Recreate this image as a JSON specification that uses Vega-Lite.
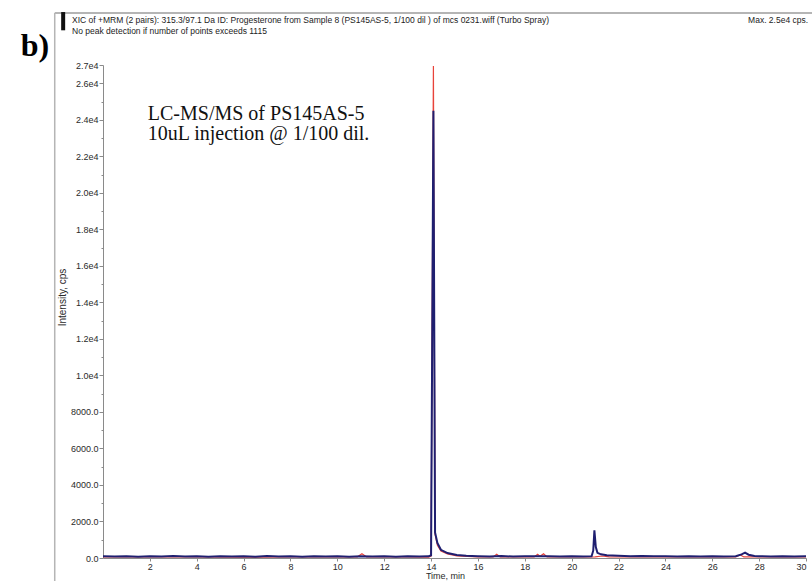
{
  "$schema": "https://vega.github.io/schema/vega-lite/v6.json",
  "width": 703,
  "height": 493,
  "autosize": {"type": "none"},
  "padding": {"left": 103, "top": 65, "right": 6, "bottom": 23},
  "background": "white",
  "config": {
    "view": {"stroke": null},
    "font": "Liberation Sans",
    "axis": {
      "domainColor": "#8a8a8a",
      "tickColor": "#8a8a8a",
      "labelColor": "#2a2a2a",
      "titleColor": "#2a2a2a",
      "labelFont": "Liberation Sans",
      "titleFont": "Liberation Sans",
      "labelFontSize": 9,
      "titleFontSize": 9,
      "titleFontWeight": "normal",
      "grid": false
    }
  },
  "datasets": {
    "xic": [
      {"t": 0.0, "cps": 60, "trace": "315.3/109.1"},
      {"t": 2.0, "cps": 55, "trace": "315.3/109.1"},
      {"t": 4.0, "cps": 60, "trace": "315.3/109.1"},
      {"t": 6.0, "cps": 50, "trace": "315.3/109.1"},
      {"t": 8.0, "cps": 60, "trace": "315.3/109.1"},
      {"t": 10.0, "cps": 55, "trace": "315.3/109.1"},
      {"t": 10.85, "cps": 60, "trace": "315.3/109.1"},
      {"t": 11.05, "cps": 230, "trace": "315.3/109.1"},
      {"t": 11.25, "cps": 60, "trace": "315.3/109.1"},
      {"t": 13.0, "cps": 55, "trace": "315.3/109.1"},
      {"t": 13.9, "cps": 50, "trace": "315.3/109.1"},
      {"t": 14.0, "cps": 100, "trace": "315.3/109.1"},
      {"t": 14.1, "cps": 26950, "trace": "315.3/109.1"},
      {"t": 14.17, "cps": 1300, "trace": "315.3/109.1"},
      {"t": 14.27, "cps": 700, "trace": "315.3/109.1"},
      {"t": 14.42, "cps": 380, "trace": "315.3/109.1"},
      {"t": 14.7, "cps": 220, "trace": "315.3/109.1"},
      {"t": 15.1, "cps": 120, "trace": "315.3/109.1"},
      {"t": 16.0, "cps": 60, "trace": "315.3/109.1"},
      {"t": 16.65, "cps": 60, "trace": "315.3/109.1"},
      {"t": 16.8, "cps": 210, "trace": "315.3/109.1"},
      {"t": 16.95, "cps": 60, "trace": "315.3/109.1"},
      {"t": 18.4, "cps": 60, "trace": "315.3/109.1"},
      {"t": 18.55, "cps": 200, "trace": "315.3/109.1"},
      {"t": 18.65, "cps": 90, "trace": "315.3/109.1"},
      {"t": 18.8, "cps": 230, "trace": "315.3/109.1"},
      {"t": 18.95, "cps": 60, "trace": "315.3/109.1"},
      {"t": 20.0, "cps": 55, "trace": "315.3/109.1"},
      {"t": 21.0, "cps": 60, "trace": "315.3/109.1"},
      {"t": 21.3, "cps": 110, "trace": "315.3/109.1"},
      {"t": 21.6, "cps": 60, "trace": "315.3/109.1"},
      {"t": 24.0, "cps": 55, "trace": "315.3/109.1"},
      {"t": 27.0, "cps": 60, "trace": "315.3/109.1"},
      {"t": 27.2, "cps": 170, "trace": "315.3/109.1"},
      {"t": 27.35, "cps": 60, "trace": "315.3/109.1"},
      {"t": 30.0, "cps": 55, "trace": "315.3/109.1"},

      {"t": 0.0, "cps": 95, "trace": "315.3/97.1"},
      {"t": 0.5, "cps": 80, "trace": "315.3/97.1"},
      {"t": 1.0, "cps": 100, "trace": "315.3/97.1"},
      {"t": 1.5, "cps": 75, "trace": "315.3/97.1"},
      {"t": 2.0, "cps": 95, "trace": "315.3/97.1"},
      {"t": 2.5, "cps": 85, "trace": "315.3/97.1"},
      {"t": 3.0, "cps": 110, "trace": "315.3/97.1"},
      {"t": 3.5, "cps": 80, "trace": "315.3/97.1"},
      {"t": 4.0, "cps": 95, "trace": "315.3/97.1"},
      {"t": 4.5, "cps": 70, "trace": "315.3/97.1"},
      {"t": 5.0, "cps": 100, "trace": "315.3/97.1"},
      {"t": 5.5, "cps": 85, "trace": "315.3/97.1"},
      {"t": 6.0, "cps": 90, "trace": "315.3/97.1"},
      {"t": 6.5, "cps": 75, "trace": "315.3/97.1"},
      {"t": 7.0, "cps": 105, "trace": "315.3/97.1"},
      {"t": 7.5, "cps": 80, "trace": "315.3/97.1"},
      {"t": 8.0, "cps": 95, "trace": "315.3/97.1"},
      {"t": 8.5, "cps": 70, "trace": "315.3/97.1"},
      {"t": 9.0, "cps": 90, "trace": "315.3/97.1"},
      {"t": 9.5, "cps": 85, "trace": "315.3/97.1"},
      {"t": 10.0, "cps": 100, "trace": "315.3/97.1"},
      {"t": 10.5, "cps": 75, "trace": "315.3/97.1"},
      {"t": 11.0, "cps": 95, "trace": "315.3/97.1"},
      {"t": 11.5, "cps": 80, "trace": "315.3/97.1"},
      {"t": 12.0, "cps": 90, "trace": "315.3/97.1"},
      {"t": 12.5, "cps": 75, "trace": "315.3/97.1"},
      {"t": 13.0, "cps": 100, "trace": "315.3/97.1"},
      {"t": 13.5, "cps": 85, "trace": "315.3/97.1"},
      {"t": 13.9, "cps": 90, "trace": "315.3/97.1"},
      {"t": 14.0, "cps": 150, "trace": "315.3/97.1"},
      {"t": 14.1, "cps": 24500, "trace": "315.3/97.1"},
      {"t": 14.17, "cps": 1400, "trace": "315.3/97.1"},
      {"t": 14.27, "cps": 820, "trace": "315.3/97.1"},
      {"t": 14.42, "cps": 450, "trace": "315.3/97.1"},
      {"t": 14.7, "cps": 270, "trace": "315.3/97.1"},
      {"t": 15.1, "cps": 170, "trace": "315.3/97.1"},
      {"t": 15.5, "cps": 120, "trace": "315.3/97.1"},
      {"t": 16.0, "cps": 100, "trace": "315.3/97.1"},
      {"t": 16.5, "cps": 85, "trace": "315.3/97.1"},
      {"t": 17.0, "cps": 105, "trace": "315.3/97.1"},
      {"t": 17.5, "cps": 80, "trace": "315.3/97.1"},
      {"t": 18.0, "cps": 95, "trace": "315.3/97.1"},
      {"t": 18.5, "cps": 90, "trace": "315.3/97.1"},
      {"t": 19.0, "cps": 100, "trace": "315.3/97.1"},
      {"t": 19.5, "cps": 80, "trace": "315.3/97.1"},
      {"t": 20.0, "cps": 95, "trace": "315.3/97.1"},
      {"t": 20.5, "cps": 85, "trace": "315.3/97.1"},
      {"t": 20.85, "cps": 100, "trace": "315.3/97.1"},
      {"t": 20.92, "cps": 400, "trace": "315.3/97.1"},
      {"t": 20.97, "cps": 1520, "trace": "315.3/97.1"},
      {"t": 21.03, "cps": 600, "trace": "315.3/97.1"},
      {"t": 21.1, "cps": 280, "trace": "315.3/97.1"},
      {"t": 21.25, "cps": 200, "trace": "315.3/97.1"},
      {"t": 21.5, "cps": 150, "trace": "315.3/97.1"},
      {"t": 22.0, "cps": 120, "trace": "315.3/97.1"},
      {"t": 22.5, "cps": 100, "trace": "315.3/97.1"},
      {"t": 23.0, "cps": 110, "trace": "315.3/97.1"},
      {"t": 23.5, "cps": 90, "trace": "315.3/97.1"},
      {"t": 24.0, "cps": 100, "trace": "315.3/97.1"},
      {"t": 24.5, "cps": 85, "trace": "315.3/97.1"},
      {"t": 25.0, "cps": 95, "trace": "315.3/97.1"},
      {"t": 25.5, "cps": 80, "trace": "315.3/97.1"},
      {"t": 26.0, "cps": 100, "trace": "315.3/97.1"},
      {"t": 26.5, "cps": 85, "trace": "315.3/97.1"},
      {"t": 27.0, "cps": 100, "trace": "315.3/97.1"},
      {"t": 27.25, "cps": 200, "trace": "315.3/97.1"},
      {"t": 27.4, "cps": 290, "trace": "315.3/97.1"},
      {"t": 27.55, "cps": 180, "trace": "315.3/97.1"},
      {"t": 27.8, "cps": 110, "trace": "315.3/97.1"},
      {"t": 28.0, "cps": 95, "trace": "315.3/97.1"},
      {"t": 28.5, "cps": 85, "trace": "315.3/97.1"},
      {"t": 29.0, "cps": 100, "trace": "315.3/97.1"},
      {"t": 29.5, "cps": 80, "trace": "315.3/97.1"},
      {"t": 30.0, "cps": 90, "trace": "315.3/97.1"}
    ]
  },
  "resolve": {"axis": {"y": "independent"}},
  "layer": [
    {
      "data": {"name": "xic"},
      "transform": [{"filter": "datum.trace === '315.3/109.1'"}],
      "mark": {"type": "line", "color": "#e8433a", "strokeWidth": 1.2, "interpolate": "linear"},
      "encoding": {
        "x": {
          "field": "t",
          "type": "quantitative",
          "scale": {"domain": [0, 30], "nice": false},
          "axis": {
            "values": [2, 4, 6, 8, 10, 12, 14, 16, 18, 20, 22, 24, 26, 28, 30],
            "tickSize": 3,
            "labelPadding": 1,
            "title": "Time, min",
            "titlePadding": 0,
            "titleX": 342
          }
        },
        "y": {
          "field": "cps",
          "type": "quantitative",
          "scale": {"domain": [0, 27000], "nice": false},
          "axis": {
            "orient": "left",
            "values": [0, 2000, 4000, 6000, 8000, 10000, 12000, 14000, 16000, 18000, 20000, 22000, 24000, 26000, 27000],
            "labelExpr": "datum.value >= 10000 ? format(datum.value / 10000, '.1f') + 'e4' : format(datum.value, '.1f')",
            "tickSize": 4,
            "labelPadding": 1,
            "title": "Intensity, cps",
            "titleFontSize": 10,
            "titleX": -41,
            "titleY": 232,
            "titleAngle": -90,
            "titleBaseline": "middle"
          }
        }
      }
    },
    {
      "data": {"name": "xic"},
      "transform": [{"filter": "datum.trace === '315.3/97.1'"}],
      "mark": {"type": "line", "color": "#1f1f70", "strokeWidth": 2, "interpolate": "linear"},
      "encoding": {
        "x": {"field": "t", "type": "quantitative", "scale": {"domain": [0, 30], "nice": false}},
        "y": {"field": "cps", "type": "quantitative", "scale": {"domain": [0, 27000], "nice": false}, "axis": null}
      }
    },
    {
      "description": "minor ticks on the intensity axis",
      "data": {"values": [{}]},
      "mark": {"type": "rule", "opacity": 0},
      "encoding": {
        "y": {
          "datum": 0,
          "type": "quantitative",
          "scale": {"domain": [0, 27000], "nice": false},
          "axis": {
            "orient": "left",
            "values": [1000, 3000, 5000, 7000, 9000, 11000, 13000, 15000, 17000, 19000, 21000, 23000, 25000],
            "labels": false,
            "domain": false,
            "tickSize": 2,
            "title": null
          }
        }
      }
    },
    {
      "description": "pane frame: left edge",
      "data": {"values": [{}]},
      "mark": {"type": "rule", "color": "#b5b5b5", "strokeWidth": 1.5},
      "encoding": {
        "x": {"datum": -2.06, "type": "quantitative"},
        "y": {"datum": 29850, "type": "quantitative", "axis": null},
        "y2": {"datum": -1300}
      }
    },
    {
      "description": "pane frame: top edge",
      "data": {"values": [{}]},
      "mark": {"type": "rule", "color": "#b5b5b5", "strokeWidth": 2},
      "encoding": {
        "x": {"datum": -2.06, "type": "quantitative"},
        "x2": {"datum": 30.3},
        "y": {"datum": 29850, "type": "quantitative", "axis": null}
      }
    },
    {
      "description": "pane frame: marker bar",
      "data": {"values": [{}]},
      "mark": {"type": "rule", "color": "#111111", "strokeWidth": 4},
      "encoding": {
        "x": {"datum": -1.7, "type": "quantitative"},
        "y": {"datum": 29900, "type": "quantitative", "axis": null},
        "y2": {"datum": 28900}
      }
    },
    {
      "description": "pane header",
      "data": {"values": [{}]},
      "mark": {
        "type": "text",
        "font": "Liberation Sans",
        "fontSize": 8.5,
        "lineHeight": 11,
        "align": "left",
        "baseline": "top",
        "color": "#222222"
      },
      "encoding": {
        "x": {"datum": -1.32, "type": "quantitative"},
        "y": {"datum": 29690, "type": "quantitative", "axis": null},
        "text": {"value": [
          "XIC of +MRM (2 pairs): 315.3/97.1 Da ID: Progesterone from Sample 8 (PS145AS-5, 1/100 dil ) of mcs 0231.wiff (Turbo Spray)",
          "No peak detection if number of points exceeds 1115"
        ]}
      }
    },
    {
      "description": "maximum intensity note",
      "data": {"values": [{}]},
      "mark": {
        "type": "text",
        "font": "Liberation Sans",
        "fontSize": 8.5,
        "align": "right",
        "baseline": "top",
        "color": "#222222"
      },
      "encoding": {
        "x": {"datum": 30.09, "type": "quantitative"},
        "y": {"datum": 29690, "type": "quantitative", "axis": null},
        "text": {"value": "Max. 2.5e4 cps."}
      }
    },
    {
      "description": "sample annotation",
      "data": {"values": [{}]},
      "mark": {
        "type": "text",
        "font": "Liberation Serif",
        "fontSize": 20,
        "align": "left",
        "baseline": "alphabetic",
        "lineHeight": 20,
        "color": "#111111"
      },
      "encoding": {
        "x": {"datum": 1.91, "type": "quantitative"},
        "y": {"datum": 24000, "type": "quantitative", "axis": null},
        "text": {"value": ["LC-MS/MS of PS145AS-5", "10uL injection @ 1/100 dil."]}
      }
    },
    {
      "description": "panel letter",
      "data": {"values": [{}]},
      "mark": {
        "type": "text",
        "font": "Liberation Serif",
        "fontSize": 32,
        "fontWeight": "bold",
        "align": "center",
        "baseline": "middle",
        "color": "#000000"
      },
      "encoding": {
        "x": {"datum": -2.9, "type": "quantitative"},
        "y": {"datum": 28050, "type": "quantitative", "axis": null},
        "text": {"value": "b)"}
      }
    }
  ]
}
